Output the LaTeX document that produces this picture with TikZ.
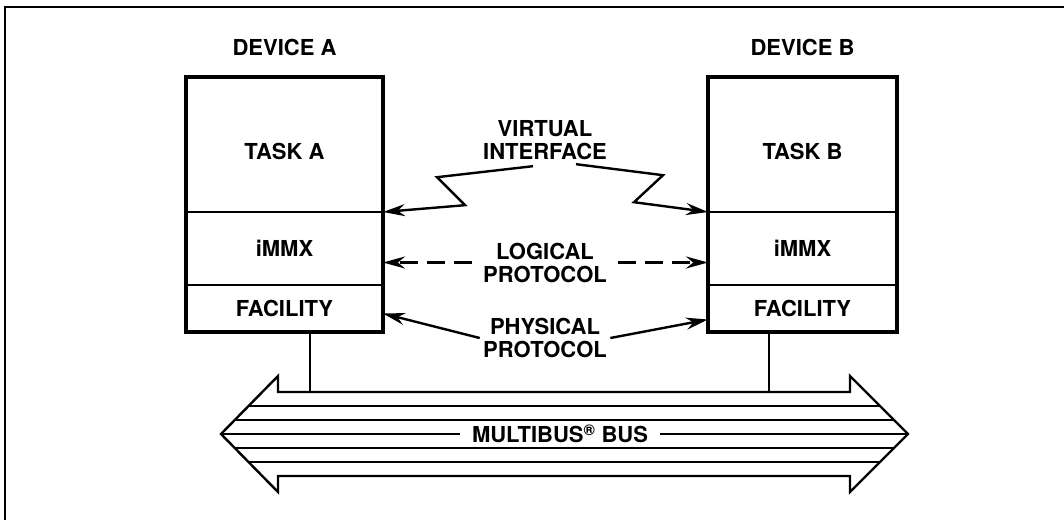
\documentclass[tikz,border=0pt]{standalone}
\usepackage{fontspec}
\setmainfont{TeX Gyre Heros}
\usepackage{tikz}
\usetikzlibrary{positioning, arrows.meta}
\tikzstyle{layer} = [draw, line width=2pt, outer sep=0pt, inner sep=0pt]
\tikzstyle{arrow} = [line width=2.4pt,-{Stealth[length=22pt,width=12pt]}]
\tikzstyle{busline} = [line width=2.4pt]
\tikzstyle{lbl} = [align=center]

\begin{document}
\begin{tikzpicture}[x=1pt, y=-1pt, font=\fontsize{22}{23}\selectfont\bfseries]
\useasboundingbox (0,0) rectangle (1064,520);
% frame
\draw [line width=2.6pt] (5,520) -- (5,7) -- (1064,7);

% device A
\node (taskA) [layer, minimum width=197pt, minimum height=135pt, text height=30pt, text depth=0pt] at (284.5,144.5) {TASK A};
\node (mmxA) [layer, minimum width=197pt, minimum height=73pt, below=0pt of taskA] {iMMX};
\node (facA) [layer, minimum width=197pt, minimum height=47pt, below=0pt of mmxA] {FACILITY};
\draw [line width=3.4pt] (taskA.north west) rectangle (facA.south east);
\node (devA) [above=18pt of taskA] {DEVICE A};

% device B
\node (taskB) [layer, minimum width=189pt, minimum height=135pt, text height=30pt, text depth=0pt] at (802.5,144.5) {TASK B};
\node (mmxB) [layer, minimum width=189pt, minimum height=73pt, below=0pt of taskB] {iMMX};
\node (facB) [layer, minimum width=189pt, minimum height=47pt, below=0pt of mmxB] {FACILITY};
\draw [line width=3.4pt] (taskB.north west) rectangle (facB.south east);
\node (devB) [above=18pt of taskB] {DEVICE B};

% interfaces
\node (vi) [lbl] at (545,140) {VIRTUAL\\INTERFACE};
\node (logic) [lbl] at (545,262.5) {LOGICAL\\PROTOCOL};
\node (phys) [lbl] at (545,338) {PHYSICAL\\PROTOCOL};

\draw [arrow] ([xshift=-12pt,yshift=-3pt]vi.south) -- ++(-96,11) -- ++(28,28) -- (taskA.south east);
\draw [arrow] ([xshift=31pt,yshift=-1pt]vi.south) -- ++(87,11) -- ++(-29,27) -- (taskB.south west);

\draw [arrow, dash pattern=on 18pt off 9pt] ([xshift=-8pt]logic.west) -- (logic.west -| mmxA.east);
\draw [arrow, dash pattern=on 18pt off 9pt] ([xshift=8pt]logic.east) -- (logic.east -| mmxB.west);

\draw [arrow] (phys.west) -- ([yshift=-5pt]facA.east);
\draw [arrow] (phys.east) -- ([yshift=-11pt]facB.west);

% bus
\coordinate (busA) at (310,392);
\coordinate (busB) at (769,392);
\draw [busline] (221,434) -- (278,376) -- (278,392) -- (850,392) -- (850,376) -- (908,434)
  -- (850,492) -- (850,476) -- (278,476) -- (278,492) -- cycle;
\foreach \d in {14,28} {
  \draw [busline] (221+\d,434-\d) -- (908-\d,434-\d);
  \draw [busline] (221+\d,434+\d) -- (908-\d,434+\d);
}
\draw [busline] (221,434) -- (908,434);
\node (bus) [fill=white, inner xsep=12pt, inner ysep=1pt] at (560,434) {MULTIBUS\textsuperscript{\textregistered} BUS};

\draw [line width=2pt] (facA.south -| busA) -- (busA);
\draw [line width=2pt] (facB.south -| busB) -- (busB);
\end{tikzpicture}
\end{document}
